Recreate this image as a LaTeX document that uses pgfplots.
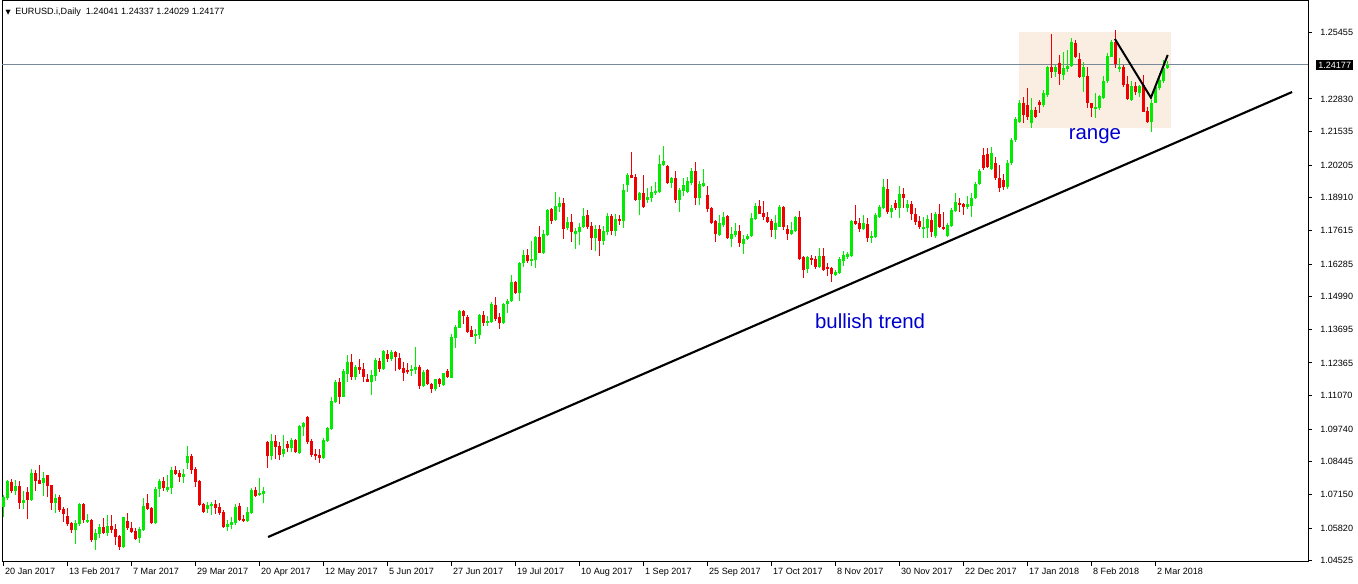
\documentclass[border=0pt]{standalone}
\usepackage{pgfplots}
\pgfplotsset{compat=1.18}
\usepackage{pgfplotstable}
\usepackage{fontspec}
\setmainfont{Liberation Sans}
\newfontfamily\symfont{DejaVu Sans}
\definecolor{cup}{RGB}{0,235,0}
\definecolor{cdn}{RGB}{240,0,0}
\definecolor{rangebg}{RGB}{250,238,227}
\definecolor{priceline}{RGB}{119,136,153}
\definecolor{txtblue}{RGB}{0,0,205}

\pgfplotstableread{
x o h l c
0 1.0664 1.0713 1.0627 1.0706
1 1.0702 1.0772 1.0693 1.0768
3 1.0730 1.0772 1.0713 1.0750
5 1.0682 1.0730 1.0657 1.0693
7 1.0693 1.0816 1.0688 1.0799
10 1.0759 1.0803 1.0709 1.0779
13 1.0682 1.0717 1.0643 1.0700
18 1.0575 1.0614 1.0519 1.0600
19 1.0597 1.0682 1.0590 1.0677
21 1.0607 1.0637 1.0603 1.0614
23 1.0534 1.0578 1.0495 1.0561
24 1.0558 1.0598 1.0541 1.0585
26 1.0563 1.0634 1.0550 1.0590
30 1.0505 1.0627 1.0503 1.0624
34 1.0541 1.0587 1.0524 1.0578
35 1.0574 1.0700 1.0571 1.0669
38 1.0603 1.0746 1.0600 1.0737
39 1.0735 1.0775 1.0706 1.0770
41 1.0733 1.0792 1.0726 1.0746
42 1.0739 1.0825 1.0717 1.0814
45 1.0783 1.0818 1.0759 1.0795
46 1.0838 1.0907 1.0816 1.0869
51 1.0659 1.0684 1.0640 1.0673
52 1.0669 1.0686 1.0634 1.0678
56 1.0587 1.0614 1.0571 1.0599
57 1.0594 1.0627 1.0577 1.0607
58 1.0603 1.0677 1.0594 1.0664
61 1.0611 1.0664 1.0606 1.0645
62 1.0640 1.0739 1.0637 1.0733
64 1.0711 1.0779 1.0709 1.0722
65 1.0717 1.0746 1.0682 1.0730
67 1.0869 1.0955 1.0851 1.0927
70 1.0874 1.0951 1.0862 1.0895
72 1.0900 1.0937 1.0885 1.0931
74 1.0878 1.0990 1.0874 1.0986
75 1.0984 1.1004 1.0947 1.1000
80 1.0861 1.0938 1.0857 1.0931
81 1.0927 1.0984 1.0923 1.0979
82 1.0975 1.1100 1.0971 1.1086
83 1.1083 1.1169 1.1079 1.1162
85 1.1103 1.1214 1.1100 1.1205
86 1.1193 1.1268 1.1161 1.1240
88 1.1182 1.1227 1.1169 1.1222
92 1.1162 1.1209 1.1109 1.1189
93 1.1185 1.1255 1.1165 1.1248
95 1.1211 1.1288 1.1207 1.1284
97 1.1253 1.1288 1.1243 1.1280
102 1.1203 1.1228 1.1185 1.1212
103 1.1209 1.1301 1.1193 1.1220
105 1.1146 1.1209 1.1140 1.1202
108 1.1133 1.1174 1.1127 1.1172
110 1.1149 1.1198 1.1146 1.1195
112 1.1178 1.1351 1.1175 1.1341
113 1.1334 1.1387 1.1294 1.1378
114 1.1376 1.1447 1.1374 1.1443
118 1.1345 1.1370 1.1312 1.1352
119 1.1348 1.1430 1.1330 1.1427
121 1.1394 1.1423 1.1381 1.1403
122 1.1399 1.1479 1.1394 1.1470
125 1.1394 1.1473 1.1391 1.1470
126 1.1470 1.1490 1.1436 1.1482
127 1.1480 1.1585 1.1477 1.1557
129 1.1513 1.1638 1.1480 1.1632
130 1.1632 1.1685 1.1618 1.1665
132 1.1641 1.1718 1.1621 1.1649
133 1.1645 1.1740 1.1614 1.1737
135 1.1674 1.1764 1.1669 1.1748
136 1.1744 1.1846 1.1740 1.1843
138 1.1801 1.1914 1.1798 1.1859
139 1.1856 1.1893 1.1834 1.1872
141 1.1773 1.1816 1.1764 1.1795
143 1.1746 1.1770 1.1689 1.1761
144 1.1754 1.1792 1.1704 1.1775
145 1.1775 1.1850 1.1773 1.1819
148 1.1733 1.1783 1.1681 1.1767
150 1.1721 1.1779 1.1704 1.1759
151 1.1757 1.1829 1.1743 1.1819
153 1.1761 1.1827 1.1739 1.1807
155 1.1800 1.1946 1.1772 1.1922
156 1.1942 1.1991 1.1915 1.1981
159 1.1882 1.1915 1.1823 1.1911
161 1.1882 1.1928 1.1872 1.1894
162 1.1891 1.1938 1.1874 1.1915
163 1.1909 1.1954 1.1902 1.1918
164 1.1914 1.2061 1.1909 1.2025
165 1.2021 1.2096 1.2017 1.2037
167 1.1948 1.1975 1.1928 1.1968
169 1.1882 1.1928 1.1836 1.1922
170 1.1918 1.1968 1.1898 1.1942
171 1.1915 1.1975 1.1909 1.1957
172 1.1948 1.2008 1.1942 1.1998
174 1.1891 1.1959 1.1862 1.1946
175 1.1938 1.2005 1.1935 1.1950
179 1.1743 1.1823 1.1739 1.1790
180 1.1783 1.1836 1.1776 1.1816
182 1.1728 1.1774 1.1697 1.1747
183 1.1743 1.1792 1.1737 1.1759
185 1.1708 1.1743 1.1668 1.1728
186 1.1728 1.1747 1.1724 1.1741
187 1.1739 1.1829 1.1737 1.1809
188 1.1807 1.1872 1.1803 1.1860
193 1.1763 1.1823 1.1728 1.1790
194 1.1776 1.1862 1.1774 1.1856
197 1.1747 1.1796 1.1743 1.1763
198 1.1759 1.1819 1.1757 1.1816
201 1.1609 1.1660 1.1594 1.1655
204 1.1615 1.1691 1.1611 1.1662
208 1.1585 1.1605 1.1581 1.1598
209 1.1591 1.1655 1.1589 1.1647
210 1.1640 1.1681 1.1621 1.1664
211 1.1658 1.1677 1.1647 1.1668
212 1.1662 1.1803 1.1658 1.1799
215 1.1766 1.1823 1.1763 1.1790
217 1.1733 1.1761 1.1713 1.1739
218 1.1734 1.1832 1.1730 1.1823
219 1.1813 1.1862 1.1809 1.1856
220 1.1849 1.1966 1.1847 1.1935
222 1.1836 1.1862 1.1810 1.1852
224 1.1849 1.1939 1.1810 1.1905
226 1.1852 1.1882 1.1836 1.1866
230 1.1767 1.1816 1.1730 1.1774
231 1.1770 1.1823 1.1733 1.1806
233 1.1740 1.1833 1.1733 1.1827
236 1.1741 1.1790 1.1736 1.1783
237 1.1781 1.1852 1.1777 1.1843
238 1.1839 1.1909 1.1836 1.1873
241 1.1856 1.1899 1.1847 1.1865
242 1.1859 1.1909 1.1816 1.1889
243 1.1889 1.1955 1.1886 1.1944
244 1.1944 1.2005 1.1942 1.1997
247 1.2005 1.2094 1.2001 1.2070
251 1.1935 1.2040 1.1925 1.2030
252 1.2030 1.2130 1.2020 1.2120
253 1.2120 1.2213 1.2113 1.2202
254 1.2193 1.2279 1.2186 1.2266
257 1.2186 1.2285 1.2167 1.2239
260 1.2259 1.2319 1.2252 1.2305
261 1.2299 1.2414 1.2292 1.2411
263 1.2391 1.2418 1.2371 1.2411
265 1.2378 1.2470 1.2358 1.2404
266 1.2402 1.2477 1.2391 1.2414
267 1.2414 1.2523 1.2411 1.2510
270 1.2371 1.2431 1.2312 1.2411
273 1.2242 1.2305 1.2206 1.2252
274 1.2246 1.2299 1.2239 1.2295
275 1.2285 1.2374 1.2282 1.2354
276 1.2352 1.2464 1.2345 1.2453
277 1.2451 1.2516 1.2451 1.2510
279 1.2400 1.2444 1.2391 1.2411
282 1.2279 1.2352 1.2276 1.2336
284 1.2308 1.2338 1.2289 1.2334
287 1.2193 1.2279 1.2153 1.2266
288 1.2266 1.2338 1.2266 1.2332
289 1.2325 1.2385 1.2318 1.2358
290 1.2352 1.2437 1.2345 1.2404
291 1.24041 1.24337 1.24029 1.24177
}\uptab

\pgfplotstableread{
x o h l c
2 1.0764 1.0775 1.0722 1.0730
4 1.0748 1.0768 1.0657 1.0682
6 1.0725 1.0743 1.0618 1.0693
8 1.0799 1.0812 1.0730 1.0768
9 1.0772 1.0832 1.0758 1.0758
11 1.0792 1.0792 1.0706 1.0750
12 1.0752 1.0752 1.0653 1.0682
14 1.0704 1.0713 1.0647 1.0653
15 1.0657 1.0667 1.0607 1.0639
16 1.0630 1.0660 1.0590 1.0599
17 1.0600 1.0607 1.0561 1.0575
20 1.0677 1.0682 1.0603 1.0614
22 1.0614 1.0616 1.0528 1.0534
25 1.0585 1.0620 1.0557 1.0561
27 1.0590 1.0632 1.0561 1.0573
28 1.0578 1.0598 1.0515 1.0548
29 1.0550 1.0554 1.0496 1.0508
31 1.0610 1.0640 1.0574 1.0583
32 1.0583 1.0607 1.0561 1.0567
33 1.0571 1.0581 1.0534 1.0538
36 1.0682 1.0717 1.0653 1.0656
37 1.0660 1.0667 1.0598 1.0603
40 1.0768 1.0785 1.0730 1.0739
43 1.0812 1.0828 1.0791 1.0796
44 1.0801 1.0812 1.0766 1.0783
47 1.0867 1.0875 1.0796 1.0812
48 1.0816 1.0825 1.0746 1.0766
49 1.0770 1.0772 1.0669 1.0673
50 1.0677 1.0680 1.0643 1.0647
53 1.0677 1.0693 1.0637 1.0661
54 1.0664 1.0680 1.0634 1.0643
55 1.0645 1.0653 1.0581 1.0585
59 1.0669 1.0680 1.0611 1.0614
60 1.0616 1.0634 1.0607 1.0610
63 1.0733 1.0746 1.0704 1.0709
66 1.0921 1.0928 1.0821 1.0869
68 1.0927 1.0951 1.0854 1.0904
69 1.0907 1.0924 1.0851 1.0871
71 1.0915 1.0928 1.0883 1.0900
73 1.0931 1.0933 1.0881 1.0885
76 1.1024 1.1026 1.0915 1.0923
77 1.0927 1.0934 1.0865 1.0872
78 1.0876 1.0894 1.0852 1.0868
79 1.0872 1.0894 1.0841 1.0861
84 1.1162 1.1175 1.1074 1.1103
87 1.1240 1.1272 1.1169 1.1182
89 1.1222 1.1251 1.1193 1.1209
90 1.1212 1.1238 1.1162 1.1180
91 1.1174 1.1193 1.1162 1.1162
94 1.1246 1.1255 1.1202 1.1212
96 1.1272 1.1288 1.1240 1.1253
98 1.1280 1.1284 1.1206 1.1259
99 1.1255 1.1275 1.1209 1.1212
100 1.1215 1.1240 1.1166 1.1195
101 1.1210 1.1235 1.1193 1.1201
104 1.1220 1.1228 1.1135 1.1146
106 1.1209 1.1211 1.1149 1.1153
107 1.1153 1.1158 1.1119 1.1133
109 1.1172 1.1175 1.1140 1.1152
111 1.1206 1.1211 1.1175 1.1181
115 1.1443 1.1447 1.1391 1.1423
116 1.1420 1.1427 1.1354 1.1361
117 1.1367 1.1381 1.1338 1.1341
120 1.1427 1.1444 1.1381 1.1396
123 1.1466 1.1496 1.1404 1.1412
124 1.1418 1.1433 1.1371 1.1394
128 1.1559 1.1563 1.1510 1.1515
131 1.1665 1.1688 1.1634 1.1641
134 1.1737 1.1780 1.1671 1.1674
137 1.1846 1.1850 1.1787 1.1801
140 1.1872 1.1889 1.1729 1.1769
142 1.1795 1.1827 1.1717 1.1754
146 1.1823 1.1843 1.1767 1.1777
147 1.1779 1.1796 1.1684 1.1733
149 1.1767 1.1783 1.1662 1.1720
152 1.1819 1.1827 1.1743 1.1761
154 1.1807 1.1823 1.1783 1.1800
157 1.1981 1.2072 1.1968 1.1971
158 1.1975 1.1985 1.1878 1.1882
160 1.1911 1.1981 1.1849 1.1853
166 1.2017 1.2021 1.1946 1.1948
168 1.1971 1.1997 1.1872 1.1882
173 1.1997 1.2033 1.1862 1.1891
176 1.1902 1.1938 1.1836 1.1846
177 1.1852 1.1856 1.1787 1.1792
178 1.1799 1.1803 1.1717 1.1746
181 1.1819 1.1823 1.1728 1.1733
184 1.1759 1.1783 1.1695 1.1710
189 1.1860 1.1882 1.1827 1.1828
190 1.1829 1.1880 1.1803 1.1816
191 1.1816 1.1836 1.1790 1.1796
192 1.1800 1.1809 1.1737 1.1763
195 1.1856 1.1858 1.1763 1.1776
196 1.1767 1.1783 1.1724 1.1747
199 1.1816 1.1839 1.1644 1.1648
200 1.1655 1.1660 1.1574 1.1605
202 1.1654 1.1664 1.1625 1.1644
203 1.1647 1.1660 1.1607 1.1615
205 1.1662 1.1693 1.1601 1.1605
206 1.1618 1.1631 1.1581 1.1609
207 1.1614 1.1618 1.1556 1.1588
213 1.1799 1.1862 1.1783 1.1787
214 1.1791 1.1809 1.1757 1.1769
216 1.1787 1.1809 1.1717 1.1730
221 1.1925 1.1966 1.1825 1.1836
223 1.1869 1.1882 1.1843 1.1852
225 1.1905 1.1931 1.1849 1.1889
227 1.1866 1.1880 1.1803 1.1825
228 1.1825 1.1852 1.1783 1.1796
229 1.1799 1.1820 1.1767 1.1774
232 1.1803 1.1829 1.1737 1.1757
234 1.1827 1.1865 1.1770 1.1777
235 1.1777 1.1836 1.1763 1.1767
239 1.1872 1.1889 1.1836 1.1862
240 1.1865 1.1869 1.1823 1.1856
245 1.2061 1.2087 1.2001 1.2008
246 1.2063 1.2087 1.2008 1.2014
248 1.2030 1.2054 1.1962 1.1968
249 1.1971 1.2021 1.1915 1.1931
250 1.1960 1.1985 1.1920 1.1935
255 1.2266 1.2292 1.2186 1.2219
256 1.2259 1.2325 1.2200 1.2213
258 1.2239 1.2252 1.2206 1.2213
259 1.2272 1.2279 1.2226 1.2259
262 1.2411 1.2540 1.2365 1.2391
264 1.2427 1.2457 1.2338 1.2382
268 1.2506 1.2516 1.2444 1.2450
269 1.2440 1.2464 1.2365 1.2368
271 1.2374 1.2408 1.2246 1.2266
272 1.2266 1.2268 1.2213 1.2246
278 1.2510 1.2556 1.2404 1.2422
280 1.2411 1.2418 1.2332 1.2338
281 1.2341 1.2374 1.2279 1.2281
283 1.2336 1.2352 1.2299 1.2312
285 1.2338 1.2378 1.2233 1.2233
286 1.2237 1.2252 1.2189 1.2193
}\dntab

\begin{document}
\begin{tikzpicture}
\path[use as bounding box] (0,0) rectangle (1018.5pt,438pt);
\begin{axis}[
  at={(1.5pt,16.5pt)}, anchor=south west,
  scale only axis, width=979.5pt, height=420.75pt,
  xmin=-0.325, xmax=326.175, ymin=1.04473, ymax=1.26711,
  axis line style={line width=0.75pt},
  tick align=outside, major tick length=3pt,
  tick style={line width=0.75pt, black},
  xtick pos=lower, ytick pos=upper,
  xticklabel pos=lower, yticklabel pos=upper,
  xtick={0,16,...,288},
  xticklabels={20 Jan 2017,13 Feb 2017,7 Mar 2017,29 Mar 2017,20 Apr 2017,12 May 2017,5 Jun 2017,27 Jun 2017,19 Jul 2017,10 Aug 2017,1 Sep 2017,25 Sep 2017,17 Oct 2017,8 Nov 2017,30 Nov 2017,22 Dec 2017,17 Jan 2018,8 Feb 2018,2 Mar 2018},
  ytick={1.04525,1.05820,1.07150,1.08445,1.09740,1.11070,1.12365,1.13695,1.14990,1.16285,1.17615,1.18910,1.20205,1.21535,1.22830,1.25455},
  yticklabels={1.04525,1.05820,1.07150,1.08445,1.09740,1.11070,1.12365,1.13695,1.14990,1.16285,1.17615,1.18910,1.20205,1.21535,1.22830,1.25455},
  ticklabel style={font=\fontsize{6.8}{8}\selectfont, inner sep=0pt},
  xticklabel style={anchor=north west, xshift=1.2pt, yshift=-1.5pt},
  yticklabel style={anchor=west, xshift=6pt},
  clip=true,
]
% range box
\addplot[fill=rangebg, draw=none, forget plot] coordinates {(253.9,1.21677) (291.9,1.21677) (291.9,1.25483) (253.9,1.25483)} -- cycle;
% current price line
\addplot[priceline, line width=0.75pt, forget plot] coordinates {(-0.325,1.24177) (326.175,1.24177)};
% wicks
\addplot[draw=none, no markers, forget plot,
  error bars/.cd, y dir=both, y explicit, error mark=none,
  error bar style={draw=cup, line width=0.75pt}]
  table[x=x, y expr={(\thisrow{h}+\thisrow{l})/2}, y error expr={(\thisrow{h}-\thisrow{l})/2}] {\uptab};
\addplot[draw=none, no markers, forget plot,
  error bars/.cd, y dir=both, y explicit, error mark=none,
  error bar style={draw=cdn, line width=0.75pt}]
  table[x=x, y expr={(\thisrow{h}+\thisrow{l})/2}, y error expr={(\thisrow{h}-\thisrow{l})/2}] {\dntab};
% bodies
\addplot[draw=none, no markers, forget plot,
  error bars/.cd, y dir=both, y explicit, error mark=none,
  error bar style={draw=cup, line width=2.25pt}]
  table[x=x, y expr={(\thisrow{o}+\thisrow{c})/2}, y error expr={max(abs(\thisrow{c}-\thisrow{o})/2,0.00014)}] {\uptab};
\addplot[draw=none, no markers, forget plot,
  error bars/.cd, y dir=both, y explicit, error mark=none,
  error bar style={draw=cdn, line width=2.25pt}]
  table[x=x, y expr={(\thisrow{o}+\thisrow{c})/2}, y error expr={max(abs(\thisrow{c}-\thisrow{o})/2,0.00014)}] {\dntab};
% trend line and V
\addplot[black, line width=1.6pt, forget plot] coordinates {(66.2,1.05464) (322.2,1.23103)};
\addplot[black, line width=1.5pt, forget plot] coordinates {(277.9,1.25205) (286.9,1.22878) (291.1,1.24571)};
% annotations
\node[txtblue, font=\fontsize{15.3}{18}\selectfont, inner sep=0pt] at (axis cs:216.7,1.14025) {bullish trend};
\node[txtblue, font=\fontsize{15.3}{18}\selectfont, inner sep=0pt] at (axis cs:272.9,1.2137) {range};
% header
\node[anchor=north west, inner sep=0pt, font=\fontsize{6.8}{8}\selectfont] at (rel axis cs:0,1) [xshift=2.5pt, yshift=-5pt] {{\symfont\fontsize{5}{6}\selectfont ▼}\hspace{3.5pt}EURUSD.i,Daily\ \ 1.24041 1.24337 1.24029 1.24177};
\end{axis}
\begin{axis}[
  at={(1.5pt,16.5pt)}, anchor=south west,
  scale only axis, width=979.5pt, height=420.75pt,
  xmin=-0.325, xmax=326.175, ymin=1.04473, ymax=1.26711,
  hide axis, clip=false]
\node[anchor=west, fill=black, text=white, inner xsep=1.5pt, inner ysep=1.2pt, font=\fontsize{6.8}{8}\selectfont] at (axis cs:326.175,1.24177) [xshift=6pt] {1.24177};
\end{axis}
\end{tikzpicture}
\end{document}
